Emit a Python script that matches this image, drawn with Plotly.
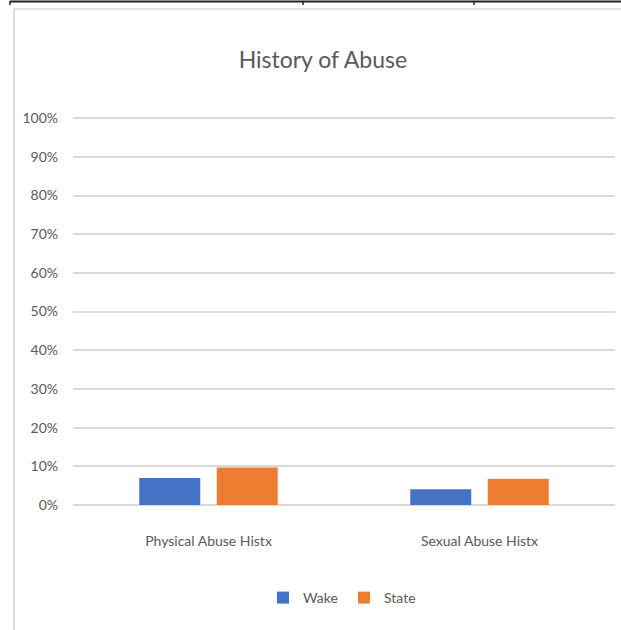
import plotly.graph_objects as go

categories = ["Physical Abuse Histx", "Sexual Abuse Histx"]
wake = [0.07, 0.041]
state = [0.097, 0.068]
series_names = ["Wake", "State"]
colors = ["#4472C4", "#ED7D31"]

FONT = "Lato, Open Sans, sans-serif"
GRAY = "#595959"

fig = go.Figure()
fig.add_trace(go.Bar(x=categories, y=wake, name=series_names[0], marker=dict(color=colors[0], line_width=0)))
fig.add_trace(go.Bar(x=categories, y=state, name=series_names[1], marker=dict(color=colors[1], line_width=0)))

W, H = 621, 630
L, R, T, B = 73, 6, 117, 125
pw, ph = W - L - R, H - T - B

def px(x):
    return (x - L) / pw

def py(y):
    return (H - B - y) / ph

shapes = [
    dict(type="line", xref="paper", yref="paper", x0=px(14), x1=px(14), y0=py(9), y1=py(640), line=dict(color="#d0d0d0", width=1.5)),
    dict(type="line", xref="paper", yref="paper", x0=px(14), x1=px(640), y0=py(9), y1=py(9), line=dict(color="#d9d9d9", width=1.5)),
    dict(type="line", xref="paper", yref="paper", x0=px(10), x1=px(640), y0=py(1.5), y1=py(1.5), line=dict(color="#222222", width=2)),
    dict(type="line", xref="paper", yref="paper", x0=px(10), x1=px(10), y0=py(1), y1=py(5), line=dict(color="#222222", width=1.5)),
    dict(type="line", xref="paper", yref="paper", x0=px(303), x1=px(303), y0=py(1), y1=py(5), line=dict(color="#222222", width=1.5)),
    dict(type="line", xref="paper", yref="paper", x0=px(474), x1=px(474), y0=py(1), y1=py(5), line=dict(color="#222222", width=1.5)),
]

fig.update_layout(
    width=W, height=H,
    margin=dict(l=L, r=R, t=T, b=B),
    paper_bgcolor="white", plot_bgcolor="white",
    barmode="group", bargap=0.428, bargroupgap=0.213,
    title=dict(text="History of Abuse", x=0.52, xanchor="center", y=(H - 60) / H, yanchor="middle",
               font=dict(family=FONT, size=23, color=GRAY)),
    font=dict(family=FONT, color=GRAY, size=13),
    xaxis=dict(showgrid=False, showline=False, ticks="", ticklabelstandoff=26,
               tickfont=dict(family=FONT, size=14, color=GRAY)),
    yaxis=dict(range=[0, 1.003], dtick=0.1, tickformat=".0%", showgrid=True, gridcolor="#d9d9d9", gridwidth=2,
               zeroline=True, zerolinecolor="#d9d9d9", zerolinewidth=2, showline=False, ticks="",
               ticklabelstandoff=14, tickfont=dict(family=FONT, size=14, color=GRAY)),
    legend=dict(orientation="h", x=0.5, xanchor="center", y=py(598), yanchor="middle",
                font=dict(family=FONT, size=14, color=GRAY), itemwidth=30, tracegroupgap=0,
                entrywidth=36, entrywidthmode="pixels"),
    shapes=shapes,
)

fig.write_html("out.html", config={"displayModeBar": False},
               post_script="document.body.style.margin='0';document.body.style.overflow='hidden';")
